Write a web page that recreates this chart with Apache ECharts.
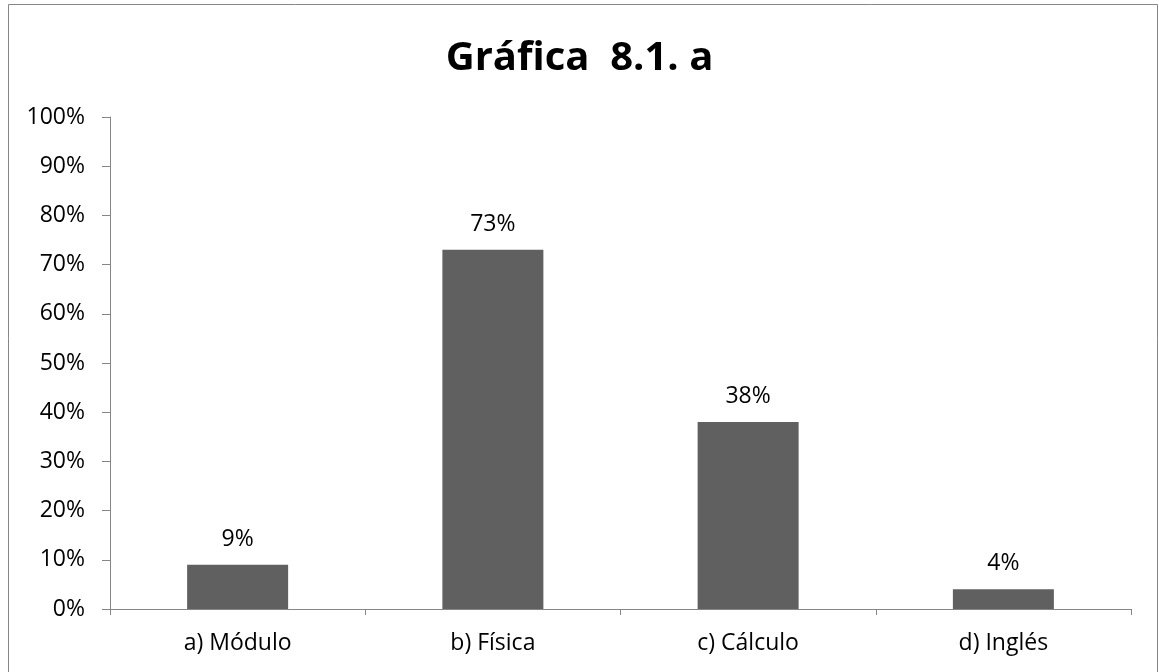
<!DOCTYPE html>
<html>
<head>
<meta charset="utf-8">
<script src="https://cdn.jsdelivr.net/npm/echarts@6/dist/echarts.min.js"></script>
<style>
  html, body { margin: 0; padding: 0; background: #fff; }
  #chart { width: 1159px; height: 672px; }
</style>
</head>
<body>
<div id="chart"></div>
<script>
// datos de la gráfica
var categorias = ['a) Módulo', 'b) Física', 'c) Cálculo', 'd) Inglés'];
var valores = [9, 73, 38, 4];
var titulo = 'Gráfica  8.1. a';

var chart = echarts.init(document.getElementById('chart'));
var fuente = '"Open Sans", "DejaVu Sans", sans-serif';

var option = {
    backgroundColor: '#fff',
    animation: false,
    graphic: [{
        type: 'rect',
        shape: { x: 8.5, y: 4.5, width: 1149, height: 700 },
        style: { fill: 'none', stroke: '#868686', lineWidth: 1 },
        silent: true
    }],
    title: {
        text: titulo,
        left: 'center',
        top: 34,
        textStyle: { fontFamily: fuente, fontSize: 40, fontWeight: 'bold', color: '#000' }
    },
    grid: { left: 110, right: 28, top: 117, bottom: 63 },
    xAxis: {
        type: 'category',
        data: categorias,
        axisLine: { lineStyle: { color: '#868686', width: 1 } },
        axisTick: { show: true, length: 6, lineStyle: { color: '#868686' } },
        axisLabel: { fontFamily: fuente, fontSize: 23, color: '#000', margin: 23 }
    },
    yAxis: {
        type: 'value',
        min: 0,
        max: 100,
        interval: 10,
        axisLine: { show: true, lineStyle: { color: '#868686', width: 1 } },
        axisTick: { show: true, length: 8, lineStyle: { color: '#868686' } },
        splitLine: { show: false },
        axisLabel: { fontFamily: fuente, fontSize: 23, color: '#000', margin: 25, formatter: '{value}%' }
    },
    series: [{
        type: 'bar',
        data: valores,
        barWidth: 101,
        itemStyle: { color: '#606060' },
        label: {
            show: true,
            position: 'top',
            distance: 14,
            formatter: '{c}%',
            fontFamily: fuente,
            fontSize: 23,
            color: '#000'
        }
    }]
};
chart.setOption(option);
</script>
</body>
</html>
